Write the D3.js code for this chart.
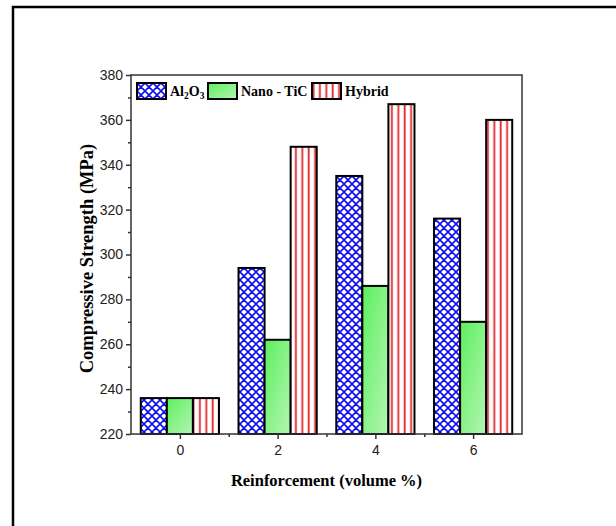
<!DOCTYPE html>
<html>
<head>
<meta charset="utf-8">
<script src="https://cdn.jsdelivr.net/npm/d3@7"></script>
<style>
  body { margin: 0; background: #fff; }
  svg { display: block; }
</style>
</head>
<body>
<script>
let categories = [0, 2, 4, 6]
let seriesNames = ["Al2O3", "Nano - TiC", "Hybrid"]
let al2o3 = [236, 294, 335, 316]
let nanoTiC = [236, 262, 286, 270]
let hybrid = [236, 348, 367, 360]
let yTicks = [220, 240, 260, 280, 300, 320, 340, 360, 380]

let w = 616, h = 526
let padL = 131, padR = 522, padT = 75, padB = 434

let svg = d3.select("body").append("svg")
    .attr("width", w)
    .attr("height", h)

let defs = svg.append("defs")

// cross hatch for Al2O3
let ph = defs.append("pattern")
    .attr("id", "hatch")
    .attr("patternUnits", "userSpaceOnUse")
    .attr("width", 8).attr("height", 8)
ph.append("rect").attr("width", 8).attr("height", 8).attr("fill", "#fff")
ph.append("path").attr("d", "M0,0 L8,8 M8,0 L0,8 M-4,4 L4,-4 M4,12 L12,4 M-4,4 L4,12 M4,-4 L12,4")
    .attr("stroke", "#1010f0").attr("stroke-width", 1.6)

// green gradient
let grad = defs.append("linearGradient")
    .attr("id", "green")
    .attr("x1", "0").attr("y1", "0").attr("x2", "1").attr("y2", "1")
grad.append("stop").attr("offset", "0").attr("stop-color", "#5df05d")
grad.append("stop").attr("offset", "1").attr("stop-color", "#b4f5b4")

// vertical red lines for Hybrid
let pv = defs.append("pattern")
    .attr("id", "vlines")
    .attr("patternUnits", "userSpaceOnUse")
    .attr("width", 6.4).attr("height", 10)
pv.append("rect").attr("width", 6.4).attr("height", 10).attr("fill", "#fff")
pv.append("line").attr("x1", 1.5).attr("x2", 1.5).attr("y1", 0).attr("y2", 10)
    .attr("stroke", "#e0262c").attr("stroke-width", 1.8)

let fills = ["url(#hatch)", "url(#green)", "url(#vlines)"]

// outer frame
svg.append("rect")
    .attr("x", 13).attr("y", 7)
    .attr("width", 700).attr("height", 600)
    .attr("fill", "none").attr("stroke", "#000").attr("stroke-width", 2.5)

let x = d3.scaleLinear().domain([-1, 7]).range([padL, padR])
let y = d3.scaleLinear().domain([220, 380]).range([padB, padT])
let inner = d3.scaleBand().domain(seriesNames).range([-0.8, 0.8]).padding(0)

let data = []
categories.forEach((c, i) => {
    data.push({cat: c, s: 0, v: al2o3[i]})
    data.push({cat: c, s: 1, v: nanoTiC[i]})
    data.push({cat: c, s: 2, v: hybrid[i]})
})

svg.append("g").selectAll("rect")
    .data(data)
    .enter()
    .append("rect")
    .attr("x", d => x(d.cat + inner(seriesNames[d.s])))
    .attr("y", d => y(d.v))
    .attr("width", d => x(inner.bandwidth()) - x(0))
    .attr("height", d => y(220) - y(d.v))
    .attr("fill", d => fills[d.s])
    .attr("stroke", "#000")
    .attr("stroke-width", 2)

// frame around plot
svg.append("rect")
    .attr("x", padL).attr("y", padT)
    .attr("width", padR - padL).attr("height", padB - padT)
    .attr("fill", "none").attr("stroke", "#333").attr("stroke-width", 1.5)

// y axis
let yAxis = d3.axisLeft(y).tickValues(yTicks).tickSize(5).tickFormat(d3.format("d"))
let gy = svg.append("g").attr("transform", `translate(${padL},0)`).call(yAxis)
let yMinor = d3.axisLeft(y).tickValues(d3.range(230, 380, 20)).tickSize(3).tickFormat("")
let gym = svg.append("g").attr("transform", `translate(${padL},0)`).call(yMinor)

// x axis
let xAxis = d3.axisBottom(x).tickValues(categories).tickSize(5).tickFormat(d3.format("d"))
let gx = svg.append("g").attr("transform", `translate(0,${padB})`).call(xAxis)
let xMinor = d3.axisBottom(x).tickValues([1, 3, 5]).tickSize(3).tickFormat("")
let gxm = svg.append("g").attr("transform", `translate(0,${padB})`).call(xMinor)

for (let g of [gy, gym, gx, gxm]) {
    g.select(".domain").remove()
    g.selectAll("line").attr("stroke", "#333").attr("stroke-width", 1.5)
    g.selectAll("text")
        .attr("font-family", "Liberation Sans, Arial, sans-serif")
        .attr("font-size", 14)
        .attr("fill", "#222")
}
gy.selectAll("text").attr("x", -8)
gx.selectAll("text").attr("y", 11)

// axis titles
svg.append("text")
    .attr("x", (padL + padR) / 2)
    .attr("y", 486)
    .attr("text-anchor", "middle")
    .attr("font-family", "Liberation Serif, Times New Roman, serif")
    .attr("font-weight", "bold")
    .attr("font-size", 16.5)
    .text("Reinforcement (volume %)")

svg.append("text")
    .attr("transform", `translate(93,${(padT + padB) / 2 + 4}) rotate(-90)`)
    .attr("text-anchor", "middle")
    .attr("font-family", "Liberation Serif, Times New Roman, serif")
    .attr("font-weight", "bold")
    .attr("font-size", 18.5)
    .text("Compressive Strength (MPa)")

// legend
let legendX = [137, 208, 312]
let legend = svg.append("g")
    .attr("font-family", "Liberation Serif, Times New Roman, serif")
    .attr("font-weight", "bold")
    .attr("font-size", 14)
seriesNames.forEach((name, i) => {
    let g = legend.append("g").attr("transform", `translate(${legendX[i]},83)`)
    g.append("rect")
        .attr("width", 29).attr("height", 16)
        .attr("fill", fills[i])
        .attr("stroke", "#000").attr("stroke-width", 2)
    let t = g.append("text").attr("x", 33).attr("y", 13)
    if (i == 0) {
        t.append("tspan").text("Al")
        t.append("tspan").attr("font-size", 9.5).attr("dy", 3).text("2")
        t.append("tspan").attr("dy", -3).text("O")
        t.append("tspan").attr("font-size", 9.5).attr("dy", 3).text("3")
    } else {
        t.text(name)
    }
})
</script>
</body>
</html>
